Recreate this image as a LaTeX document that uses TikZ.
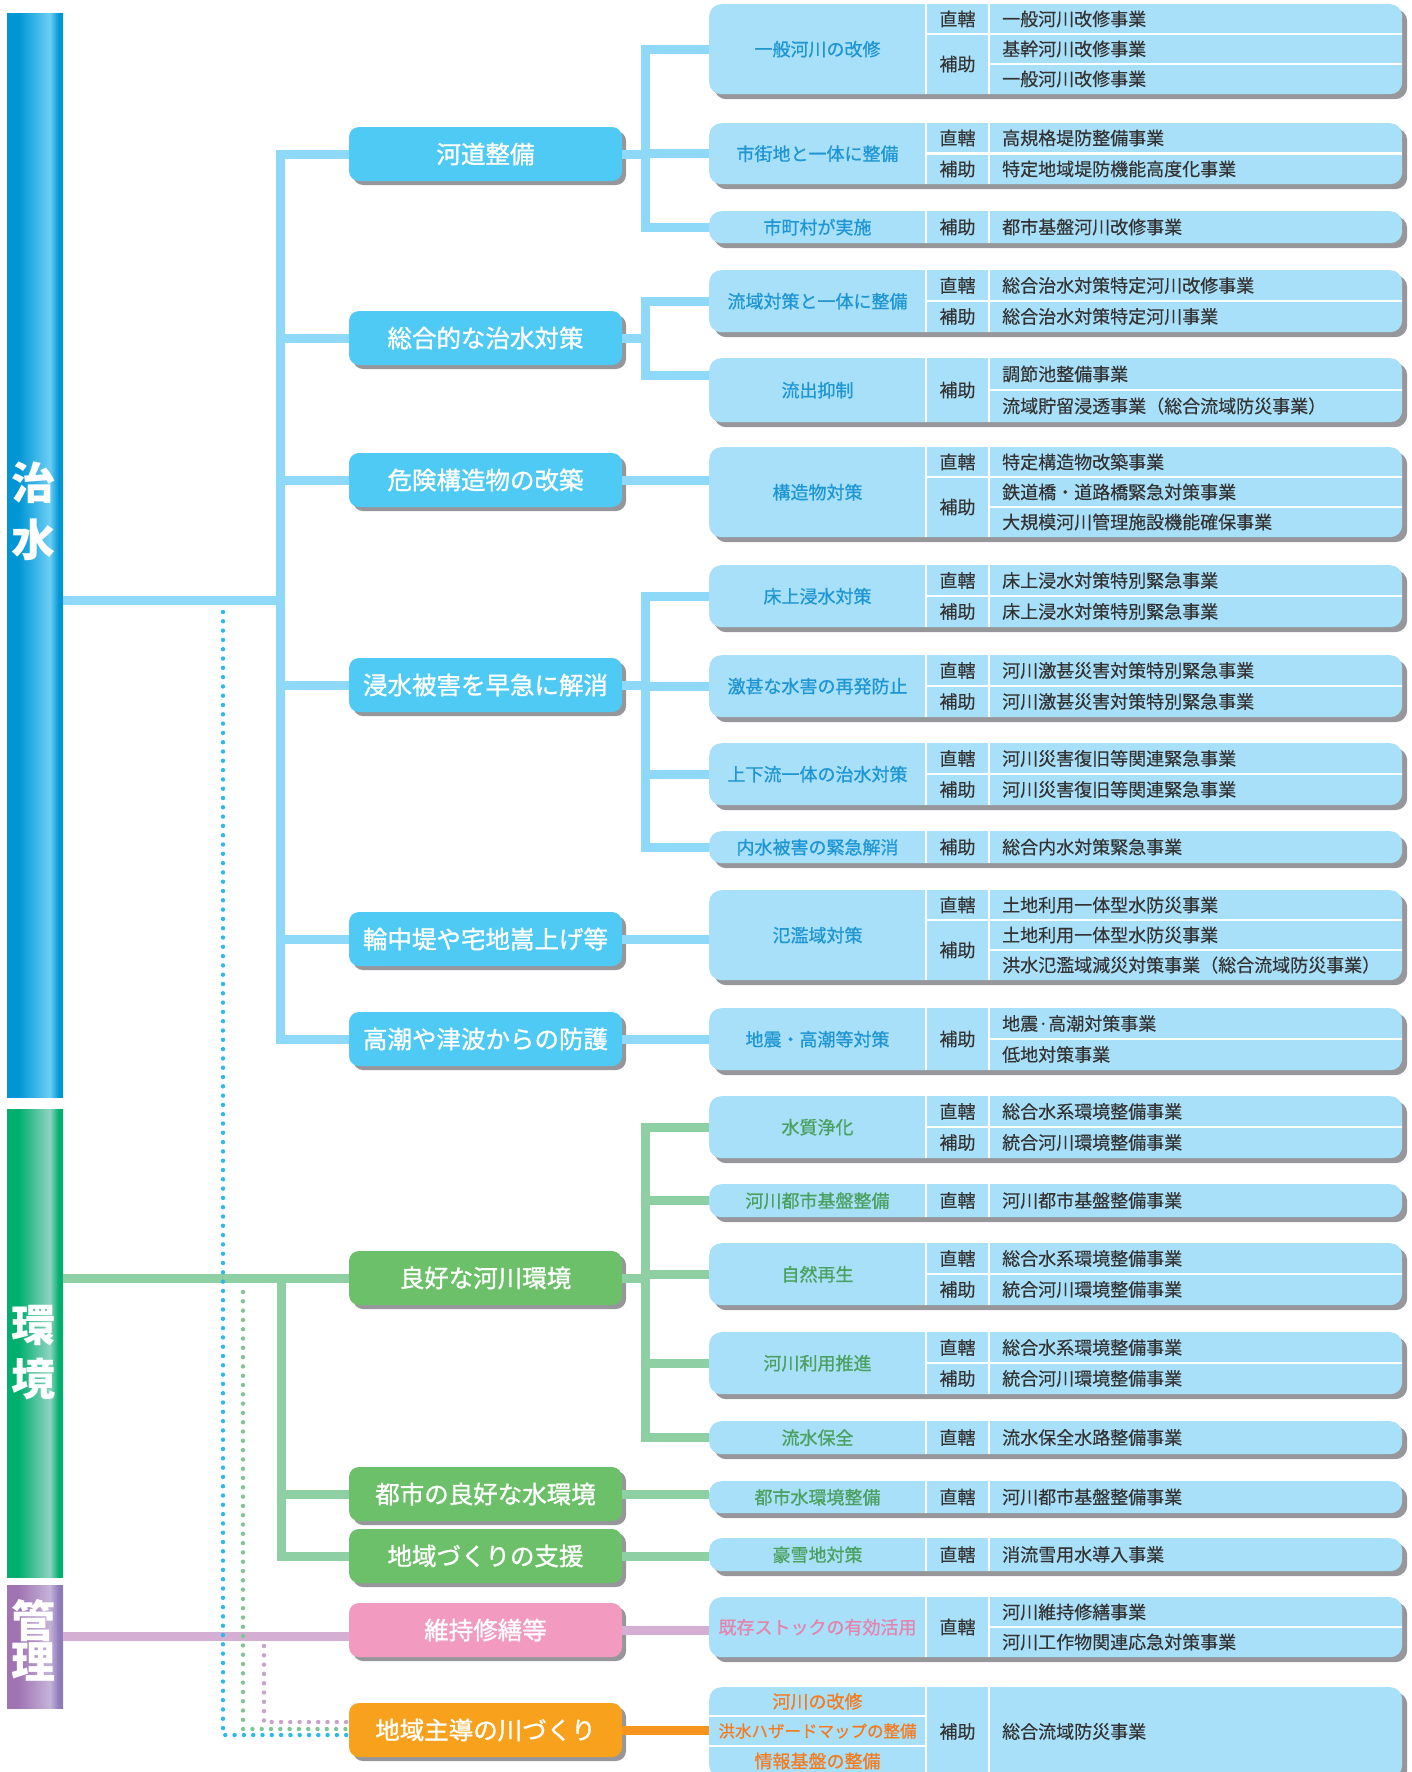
\documentclass[tikz,border=0pt]{standalone}
\usepackage{fontspec}
\setmainfont{Noto Sans CJK JP}
\newfontfamily\boxfont[FakeBold=1.2]{Noto Sans CJK JP}
\newfontfamily\namefont[FakeBold=0.8]{Noto Sans CJK JP}
\newfontfamily\itemfont[FakeBold=0.3]{Noto Sans CJK JP}
\usetikzlibrary{positioning,calc,shadows}

\definecolor{bluedark}{HTML}{0096D6}
\definecolor{bluelight}{HTML}{6CCEF4}
\definecolor{greendark}{HTML}{00AF6D}
\definecolor{greenlight}{HTML}{8FD3C1}
\definecolor{purpledark}{HTML}{A074B3}
\definecolor{purplelight}{HTML}{C5B3D8}
\definecolor{purpleedge}{HTML}{8F7BBB}
\definecolor{boxblue}{HTML}{4ECAF4}
\definecolor{boxgreen}{HTML}{6CC069}
\definecolor{boxpink}{HTML}{F39AC1}
\definecolor{boxorange}{HTML}{F8A11D}
\definecolor{catfill}{HTML}{A9E0F9}
\definecolor{shgray}{HTML}{97979B}
\definecolor{lineblue}{HTML}{8ED8F8}
\definecolor{linegreen}{HTML}{8FCFA4}
\definecolor{linepink}{HTML}{D4AED3}
\definecolor{lineorange}{HTML}{F7941E}
\definecolor{dotblue}{HTML}{2BB9EE}
\definecolor{dotgreen}{HTML}{7CC796}
\definecolor{dotpink}{HTML}{C8A2CE}
\definecolor{txtblue}{HTML}{1E96D4}
\definecolor{txtgreen}{HTML}{4AA05E}
\definecolor{txtpink}{HTML}{E583AD}
\definecolor{txtorange}{HTML}{F47B20}
\definecolor{txtgray}{HTML}{333333}

\pgfdeclarehorizontalshading{shadechisui}{100bp}{color(0bp)=(bluedark); color(35bp)=(bluedark); color(63bp)=(bluelight); color(71bp)=(bluedark); color(100bp)=(bluedark)}
\pgfdeclarehorizontalshading{shadekankyo}{100bp}{color(0bp)=(greendark); color(35bp)=(greendark); color(63bp)=(greenlight); color(71bp)=(greendark); color(100bp)=(greendark)}
\pgfdeclarehorizontalshading{shadekanri}{100bp}{color(0bp)=(purpledark); color(35bp)=(purpledark); color(63bp)=(purplelight); color(71bp)=(purpleedge); color(100bp)=(purpleedge)}

\tikzset{
    bar/.style={shade, minimum width=56pt, inner sep=0pt, anchor=north west},
    bartext/.style={text=white, font=\fontsize{44}{44}\selectfont\bfseries, inner sep=0pt},
    lvtwo/.style={rounded corners=10pt, minimum width=273pt, minimum height=54pt, inner sep=0pt,
        text=white, font=\boxfont\fontsize{24.5}{24.5}\selectfont,
        drop shadow={shadow xshift=4pt, shadow yshift=-4pt, fill=shgray, opacity=1}},
    catbox/.style={fill=catfill, rounded corners=12pt, minimum width=693pt, inner sep=0pt, anchor=north west,
        drop shadow={shadow xshift=5pt, shadow yshift=-5pt, fill=shgray, opacity=1}},
    catname/.style={font=\namefont\fontsize{18}{18}\selectfont, inner sep=0pt},
    kind/.style={font=\itemfont\fontsize{18}{18}\selectfont, text=txtgray, inner sep=0pt},
    item/.style={kind, anchor=west},
    sep/.style={white, line width=2.2pt},
    conn/.style={line width=9pt},
    dots/.style={line width=4.4pt, line cap=round, dash pattern=on 0pt off 9.3pt}
}

\begin{document}
\begin{tikzpicture}[x=1pt, y=-1pt]
    \useasboundingbox (0,0) rectangle (1412,1772);
    \clip (0,0) rectangle (1412,1772);

    \node[bar, shading=shadechisui, minimum height=1084pt] (chisui) at (7,13) {};
    \node[bar, shading=shadekankyo, minimum height=468pt] (kankyo) at (7,1109) {};
    \node[bar, shading=shadekanri, minimum height=123pt] (kanri) at (7,1585) {};
    \foreach \c/\y in {治/483, 水/540, 環/1325, 境/1379, 管/1621, 理/1662}
        \node[bartext] at (34,\y) {\c};

    \node[lvtwo, fill=boxblue] (kado) at (485.5,154) {河道整備};
    \node[lvtwo, fill=boxblue] (sogo) at (485.5,338) {総合的な治水対策};
    \node[lvtwo, fill=boxblue] (kiken) at (485.5,480) {危険構造物の改築};
    \node[lvtwo, fill=boxblue] (shinsui) at (485.5,685) {浸水被害を早急に解消};
    \node[lvtwo, fill=boxblue] (wajutei) at (485.5,939) {輪中堤や宅地嵩上げ等};
    \node[lvtwo, fill=boxblue] (takashio) at (485.5,1039) {高潮や津波からの防護};
    \node[lvtwo, fill=boxgreen] (ryoko) at (485.5,1278) {良好な河川環境};
    \node[lvtwo, fill=boxgreen] (toshi) at (485.5,1494) {都市の良好な水環境};
    \node[lvtwo, fill=boxgreen] (dukuri) at (485.5,1556) {地域づくりの支援};
    \node[lvtwo, fill=boxpink] (iji) at (485.5,1630) {維持修繕等};
    \node[lvtwo, fill=boxorange] (shudo) at (485.5,1730) {地域主導の川づくり};

    \foreach \nm/\tp/\bt in {ippan/4/94, shigai/123/184, shicho/211/243, ryuiki/270/332,
        ryushutsu/358/422, kozo/447/537, yukaue/565/627, gekijin/655/717, joge/743/805,
        naisui/831/863, hanran/890/980, jishin/1008/1070, suishitsu/1096/1158,
        toshikiban/1184/1217, shizen/1243/1305, riyo/1332/1394, ryusui/1421/1454,
        toshisui/1481/1513, gosetsu/1538/1571, kizon/1597/1657, chiiki/1687/1777}
    {
        \node[catbox, minimum height={\bt-\tp}] (\nm) at (709,\tp) {};
        \draw[sep] (926,\tp) -- (926,\bt) (989,\tp) -- (989,\bt);
    }
    \foreach \x/\y in {926/34, 989/64, 926/153.5, 926/301, 989/390, 926/477, 989/507,
        926/596, 926/686, 926/774, 926/920, 989/950, 989/1039, 926/1127, 926/1274,
        926/1363, 989/1627}
        \draw[sep] (\x,\y) -- (1402,\y);
    \draw[sep] (709,1716) -- (926,1716) (709,1746) -- (926,1746);

    \foreach \nm/\txt in {ippan/一般河川の改修, shigai/市街地と一体に整備, shicho/市町村が実施,
        ryuiki/流域対策と一体に整備, ryushutsu/流出抑制, kozo/構造物対策, yukaue/床上浸水対策,
        gekijin/激甚な水害の再発防止, joge/上下流一体の治水対策, naisui/内水被害の緊急解消,
        hanran/氾濫域対策, jishin/地震・高潮等対策}
        \node[catname, text=txtblue] at ([xshift=108.5pt]\nm.west) {\txt};
    \foreach \nm/\txt in {suishitsu/水質浄化, toshikiban/河川都市基盤整備, shizen/自然再生,
        riyo/河川利用推進, ryusui/流水保全, toshisui/都市水環境整備, gosetsu/豪雪地対策}
        \node[catname, text=txtgreen] at ([xshift=108.5pt]\nm.west) {\txt};
    \node[catname, text=txtpink] at ([xshift=108.5pt]kizon.west) {既存ストックの有効活用};
    \node[catname, text=txtorange] at (817.5,1701.5) {河川の改修};
    \node[catname, text=txtorange, font=\namefont\fontsize{16.5}{16.5}\selectfont] at (817.5,1731) {洪水ハザードマップの整備};
    \node[catname, text=txtorange] at (817.5,1761) {情報基盤の整備};

    \foreach \y/\kd in {19/直轄, 64/補助, 138/直轄, 169/補助, 227/補助, 285.5/直轄, 316.5/補助,
        390/補助, 462/直轄, 507/補助, 580.5/直轄, 611.5/補助, 670.5/直轄, 701.5/補助,
        758.5/直轄, 789.5/補助, 847/補助, 905/直轄, 950/補助, 1039/補助, 1111.5/直轄,
        1142.5/補助, 1200.5/直轄, 1258.5/直轄, 1289.5/補助, 1347.5/直轄, 1378.5/補助,
        1437.5/直轄, 1497/直轄, 1554.5/直轄, 1627/直轄, 1731.5/補助}
        \node[kind] at (957.5,\y) {\kd};

    \foreach \y/\txt in {19/一般河川改修事業, 49/基幹河川改修事業, 79/一般河川改修事業,
        138/高規格堤防整備事業, 169/特定地域堤防機能高度化事業, 227/都市基盤河川改修事業,
        285.5/総合治水対策特定河川改修事業, 316.5/総合治水対策特定河川事業,
        374/調節池整備事業, 406/流域貯留浸透事業（総合流域防災事業）,
        462/特定構造物改築事業, 492/鉄道橋・道路橋緊急対策事業, 522/大規模河川管理施設機能確保事業,
        580.5/床上浸水対策特別緊急事業, 611.5/床上浸水対策特別緊急事業,
        670.5/河川激甚災害対策特別緊急事業, 701.5/河川激甚災害対策特別緊急事業,
        758.5/河川災害復旧等関連緊急事業, 789.5/河川災害復旧等関連緊急事業,
        847/総合内水対策緊急事業, 905/土地利用一体型水防災事業, 935/土地利用一体型水防災事業,
        965/洪水氾濫域減災対策事業（総合流域防災事業）, 1023.5/地震·高潮対策事業,
        1054.5/低地対策事業, 1111.5/総合水系環境整備事業, 1142.5/統合河川環境整備事業,
        1200.5/河川都市基盤整備事業, 1258.5/総合水系環境整備事業, 1289.5/統合河川環境整備事業,
        1347.5/総合水系環境整備事業, 1378.5/統合河川環境整備事業, 1437.5/流水保全水路整備事業,
        1497/河川都市基盤整備事業, 1554.5/消流雪用水導入事業, 1612/河川維持修繕事業,
        1642/河川工作物関連応急対策事業, 1731.5/総合流域防災事業}
        \node[item] at (1002,\y) {\txt};

    \coordinate (trunk) at (280,600);
    \draw[conn, lineblue] (chisui.east |- trunk) -- (trunk);
    \foreach \nm in {kado, sogo, kiken, shinsui, wajutei, takashio}
        \draw[conn, lineblue] (trunk) |- (\nm.west);
    \foreach \nm in {ippan, shigai, shicho}
        \draw[conn, lineblue] (kado.east) -- ++(23,0) |- (\nm.west);
    \draw[conn, lineblue] (sogo.east) -- ++(23,0) |- (ryuiki.west);
    \draw[conn, lineblue] (sogo.east) -- ++(23,0) |- ([yshift=15pt]ryushutsu.west);
    \draw[conn, lineblue] (kiken.east) -- (kiken.east -| kozo.west);
    \foreach \nm in {yukaue, gekijin, joge, naisui}
        \draw[conn, lineblue] (shinsui.east) -- ++(23,0) |- (\nm.west);
    \draw[conn, lineblue] (wajutei.east) -- (wajutei.east -| hanran.west);
    \draw[conn, lineblue] (takashio.east) -- (takashio.east -| jishin.west);

    \coordinate (ktrunk) at (281,1278);
    \draw[conn, linegreen] (kankyo.east |- ryoko.west) -- (ryoko.west);
    \foreach \nm in {toshi, dukuri}
        \draw[conn, linegreen] (ktrunk) |- (\nm.west);
    \foreach \nm in {suishitsu, toshikiban, shizen, riyo, ryusui}
        \draw[conn, linegreen] (ryoko.east) -- ++(23,0) |- (\nm.west);
    \draw[conn, linegreen] (toshi.east) -- (toshi.east -| toshisui.west);
    \draw[conn, linegreen] (dukuri.east) -- (dukuri.east -| gosetsu.west);

    \coordinate (kanriout) at (63,1636);
    \draw[conn, linepink] (kanriout) -- ([yshift=-6pt]iji.west);
    \draw[conn, linepink] (iji.east) -- (iji.east -| kizon.west);
    \draw[conn, lineorange] (shudo.east) -- (shudo.east -| chiiki.west);

    \coordinate (bdot) at (223,612);
    \coordinate (gdot) at (243,1292);
    \coordinate (pdot) at (264,1646);
    \draw[dots, dotblue] (bdot) |- ([yshift=-5pt]shudo.west);
    \draw[dots, dotgreen] (gdot) |- ([yshift=1pt]shudo.west);
    \draw[dots, dotpink] (pdot) |- ([yshift=8pt]shudo.west);
\end{tikzpicture}
\end{document}
